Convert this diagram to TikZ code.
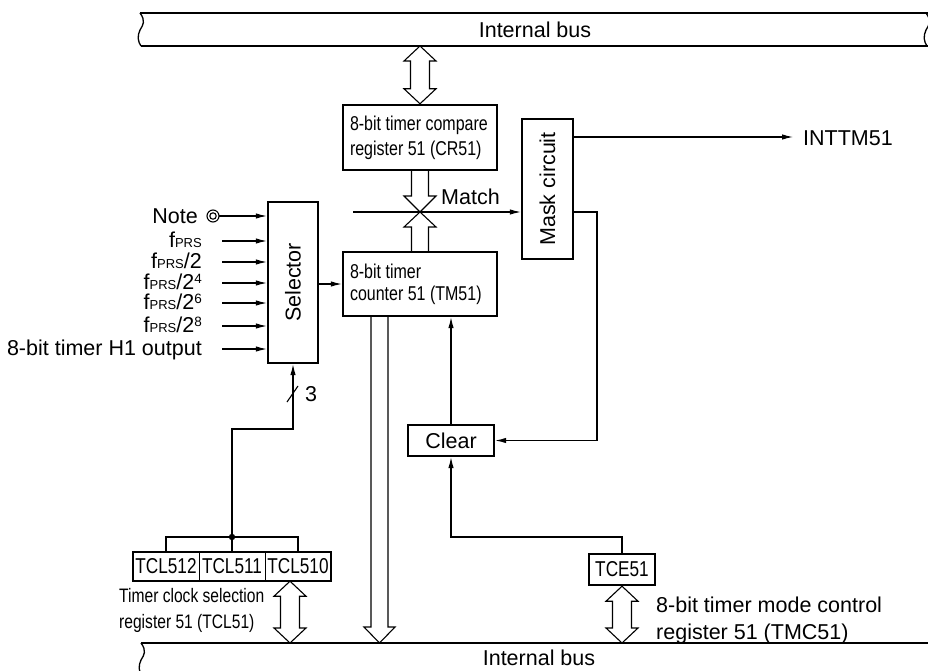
\documentclass[tikz,border=0pt]{standalone}
\usepackage{fontspec}
\setmainfont{Liberation Sans}
\newfontfamily\narrowfont[FakeStretch=0.80]{Liberation Sans}
\newfontfamily\condfont[FakeStretch=0.80]{Liberation Sans}
\usetikzlibrary{arrows.meta,calc}
\newcommand\fprs{f{\fontsize{13}{13}\selectfont PRS}}
\newcommand\sups[1]{\raisebox{6pt}{\fontsize{13.5}{13.5}\selectfont #1}}
\newcommand\fatdbl[2]{\draw[fat] let \p1=#1, \p2=#2 in
  (\x1-9.5pt,\y1-15pt) -- (\x1-16pt,\y1-15pt) -- (\x1,\y1) -- (\x1+16pt,\y1-15pt) -- (\x1+9.5pt,\y1-15pt)
  -- (\x1+9.5pt,\y2+15pt) -- (\x1+16pt,\y2+15pt) -- (\x1,\y2) -- (\x1-16pt,\y2+15pt) -- (\x1-9.5pt,\y2+15pt) -- cycle;}
\tikzset{
  box/.style={draw, line width=2.4pt, inner sep=0pt},
  conn/.style={line width=1.1pt},
  arr/.style={conn, -{Latex[length=11pt,width=5.5pt]}},
  fat/.style={line width=1.1pt, line join=miter},
  bus/.style={line width=1.3pt},
  lbl/.style={font=\fontsize{21.5}{26}\selectfont, inner sep=0pt},
  nlbl/.style={font=\narrowfont\fontsize{20}{25}\selectfont, inner sep=0pt, align=left},
  clbl/.style={font=\condfont\fontsize{21.5}{24}\selectfont, inner sep=0pt},
}
\begin{document}
\begin{tikzpicture}[x=1pt,y=-1pt]
\useasboundingbox (0,0) rectangle (928,671);
\clip (0,0) rectangle (928,671);

% ---------- buses ----------
\draw[bus] (140,13) -- (928,13);
\draw[bus] (141,46) -- (928,46);
\draw[bus] (140,13) .. controls (146,21) and (143,25) .. (140,30) .. controls (137,36) and (138,42) .. (141,46);
\draw[bus] (926,13) .. controls (932,21) and (929,25) .. (926,30) .. controls (923,36) and (924,42) .. (927,46);
\node[lbl] (ibtop) at (535,30) {Internal bus};
\coordinate (busT) at (420,46);

\draw[bus] (141,643) -- (928,643);
\draw[bus] (141,643) .. controls (147,651) and (144,655) .. (141,660) .. controls (138,666) and (139,672) .. (142,676);
\node[lbl] (ibbot) at (539,658) {Internal bus};

% ---------- blocks ----------
\node[box, minimum width=154pt, minimum height=65pt] (cr) at (420,137.5) {};
\node[nlbl, anchor=west] (crtxt) at ([xshift=8pt]cr.west) {8-bit timer compare\\register 51 (CR51)};
\node[box, minimum width=154pt, minimum height=64pt] (tm) at (420,284) {};
\node[nlbl, anchor=west, font=\narrowfont\fontsize{20}{22}\selectfont] (tmtxt) at ([xshift=8pt]tm.west) {8-bit timer\\counter 51 (TM51)};
\node[box, minimum width=51pt, minimum height=140pt, lbl] (mask) at (547.5,189)
      {\rotatebox{90}{Mask circuit}};
\node[box, minimum width=50pt, minimum height=161pt, lbl] (sel) at (293,282.5)
      {\rotatebox{90}{Selector}};
\node[box, minimum width=86pt, minimum height=31pt, lbl] (clear) at (451,440.5) {Clear};
\node[box, minimum width=66pt, minimum height=31pt, clbl] (tce) at (622,569.5) {TCE51};

% TCL51 register cells
\node[minimum width=66pt, minimum height=29pt, clbl] (c1) at (166,566.5) {TCL512};
\node[minimum width=66pt, minimum height=29pt, clbl] (c2) at (232,566.5) {TCL511};
\node[minimum width=66pt, minimum height=29pt, clbl] (c3) at (298,566.5) {TCL510};
\draw[line width=2.4pt] (c1.north west) rectangle (c3.south east);
\draw[conn] (c1.north east) -- (c1.south east);
\draw[conn] (c2.north east) -- (c2.south east);

% ---------- text labels ----------
\node[nlbl, anchor=west, font=\narrowfont\fontsize{19.5}{26}\selectfont] (tcltxt) at (119,610)
      {Timer clock selection\\register 51 (TCL51)};
\node[lbl, anchor=west, align=left, font=\fontsize{21.5}{27}\selectfont] (tmctxt) at (656,620)
      {8-bit timer mode control\\register 51 (TMC51)};
\node[lbl, anchor=west] (inttm) at (803,138) {INTTM51};
\node[lbl, anchor=west] (match) at (441,197) {Match};
\node[lbl] (three) at (311,394) {3};

% ---------- fat (bus) arrows ----------
\fatdbl{(busT)}{(cr.north)}
\fatdbl{(c3.south -| 290,0)}{(290,643)}
\fatdbl{(tce.south)}{(622,643)}
% CR51 -> match point, TM51 -> match point
\coordinate (X) at (420,212);
\draw[fat] (411.5,170) -- (411.5,196) -- (404,196) -- (X) -- (436,196) -- (428.5,196) -- (428.5,170);
\draw[fat] (411.5,252) -- (411.5,227) -- (404,227) -- (X) -- (436,227) -- (428.5,227) -- (428.5,252);
% TM51 -> bottom bus
\draw[fat] (371,316) -- (371,627) -- (364,627) -- (379.5,643) -- (395,627) -- (388,627) -- (388,316);

% ---------- selector inputs ----------
\node[lbl, anchor=base east] (lnote) at (198,223) {Note};
\draw[conn] (213,216) circle (6pt);
\draw[conn] (213,216) circle (3.2pt);
\coordinate (i0) at (219,216);
\draw[arr] (i0) -- (i0 -| sel.west);

\node[lbl, anchor=base east] (l1) at (202,247.5) {\fprs};
\node[lbl, anchor=base east] (l2) at (202,268.5) {\fprs/2};
\node[lbl, anchor=base east] (l3) at (202,289.5) {\fprs/2\sups{4}};
\node[lbl, anchor=base east] (l4) at (202,309.5) {\fprs/2\sups{6}};
\node[lbl, anchor=base east] (l5) at (202,332.5) {\fprs/2\sups{8}};
\node[lbl, anchor=base east] (l6) at (202,355.5) {8-bit timer H1 output};
\coordinate (i1) at (222,241);
\coordinate (i2) at (222,262);
\coordinate (i3) at (222,283);
\coordinate (i4) at (222,303);
\coordinate (i5) at (222,326);
\coordinate (i6) at (222,349);
\foreach \i in {1,...,6} {\draw[arr] (i\i) -- (i\i -| sel.west);}

% selector -> TM51
\draw[arr] (tm.west -| sel.east) -- (tm.west);

% TCL bracket to selector
\coordinate (dot) at (232,537);
\draw[conn] (c1.north) -- (c1.north |- dot) -- (c3.north |- dot) -- (c3.north);
\draw[conn] (c2.north) -- (dot);
\fill (dot) circle (3.2pt);
\coordinate (selturn) at (293,429);
\draw[arr] (dot) |- (selturn) -- (sel.south);
\draw[conn] (287,402) -- (298,386);

% match line
\coordinate (mstart) at (353,212);
\draw[arr] (mstart) -- (mstart -| mask.west);

% mask outputs
\coordinate (mout) at (793,137);
\draw[arr] (mout -| mask.east) -- (mout);
\coordinate (mr) at (597,212);
\draw[arr] (mr -| mask.east) -- (mr) |- (clear.east);

% clear -> TM51
\draw[arr] (clear.north) -- (clear.north |- tm.south);
% TCE51 -> clear
\coordinate (tceturn) at (622,537);
\draw[arr] (tce.north) -- (tceturn) -| (clear.south);
\end{tikzpicture}
\end{document}
